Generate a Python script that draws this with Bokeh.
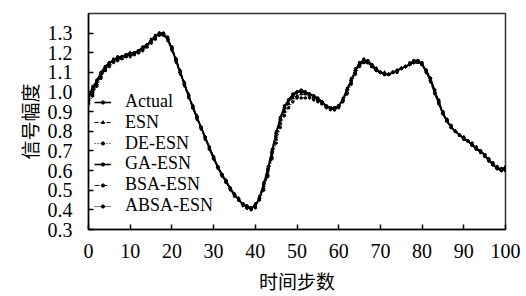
from bokeh.plotting import figure
from bokeh.embed import file_html
from bokeh.resources import INLINE
from bokeh.models import FixedTicker, PrintfTickFormatter, Range1d, Legend

time_steps = list(range(101))

actual = [0.97,1.01,1.05,1.09,1.12,1.15,1.16,1.17,1.18,1.19,
          1.19,1.20,1.21,1.22,1.24,1.26,1.28,1.30,1.29,1.27,
          1.22,1.16,1.10,1.04,0.98,0.92,0.87,0.82,0.77,0.71,
          0.66,0.62,0.58,0.54,0.51,0.48,0.45,0.43,0.41,0.41,
          0.42,0.46,0.52,0.60,0.69,0.79,0.86,0.92,0.96,0.98,
          1.00,1.00,1.00,0.99,0.98,0.96,0.95,0.93,0.92,0.91,
          0.93,0.96,1.01,1.06,1.11,1.14,1.16,1.15,1.13,1.11,
          1.10,1.09,1.09,1.10,1.11,1.12,1.13,1.14,1.15,1.16,
          1.14,1.11,1.07,1.01,0.95,0.89,0.85,0.82,0.80,0.78,
          0.76,0.75,0.73,0.71,0.70,0.68,0.65,0.63,0.61,0.60,
          0.61]

esn = [0.95,0.99,1.04,1.08,1.11,1.14,1.16,1.17,1.17,1.18,
       1.19,1.20,1.20,1.22,1.23,1.25,1.27,1.29,1.29,1.27,
       1.23,1.17,1.11,1.05,0.99,0.93,0.88,0.82,0.77,0.72,
       0.67,0.62,0.58,0.55,0.51,0.48,0.46,0.43,0.42,0.41,
       0.43,0.46,0.51,0.58,0.67,0.76,0.84,0.90,0.94,0.97,
       0.98,0.99,0.99,0.98,0.97,0.96,0.94,0.93,0.92,0.92,
       0.93,0.96,1.00,1.05,1.10,1.14,1.15,1.15,1.13,1.12,
       1.10,1.10,1.09,1.10,1.11,1.12,1.13,1.14,1.15,1.15,
       1.14,1.11,1.06,1.00,0.95,0.90,0.86,0.82,0.80,0.78,
       0.77,0.75,0.73,0.72,0.70,0.68,0.66,0.63,0.62,0.61,
       0.62]

de_esn = [0.94,0.98,1.03,1.07,1.11,1.13,1.15,1.16,1.17,1.18,
          1.18,1.19,1.20,1.21,1.23,1.25,1.27,1.29,1.30,1.28,
          1.23,1.17,1.10,1.04,0.98,0.92,0.87,0.82,0.76,0.71,
          0.66,0.62,0.58,0.54,0.51,0.47,0.45,0.43,0.41,0.40,
          0.41,0.45,0.50,0.57,0.66,0.74,0.82,0.88,0.92,0.95,
          0.97,0.97,0.97,0.97,0.96,0.95,0.94,0.92,0.91,0.91,
          0.92,0.95,0.99,1.04,1.09,1.13,1.15,1.15,1.13,1.11,
          1.10,1.09,1.09,1.10,1.10,1.12,1.13,1.14,1.15,1.16,
          1.15,1.11,1.07,1.01,0.96,0.90,0.86,0.83,0.80,0.78,
          0.77,0.75,0.74,0.72,0.70,0.68,0.66,0.64,0.62,0.60,
          0.60]

ga_esn = [0.98,1.02,1.06,1.10,1.13,1.15,1.16,1.18,1.18,1.19,
          1.20,1.20,1.21,1.23,1.24,1.26,1.28,1.30,1.30,1.27,
          1.22,1.16,1.10,1.04,0.98,0.93,0.87,0.82,0.77,0.72,
          0.67,0.62,0.58,0.55,0.51,0.48,0.45,0.43,0.42,0.41,
          0.42,0.46,0.53,0.61,0.70,0.79,0.87,0.93,0.96,0.99,
          1.00,1.01,1.00,0.99,0.98,0.97,0.95,0.93,0.92,0.92,
          0.93,0.96,1.01,1.06,1.11,1.15,1.16,1.16,1.14,1.12,
          1.10,1.09,1.09,1.10,1.11,1.12,1.13,1.14,1.16,1.16,
          1.14,1.10,1.06,1.00,0.94,0.89,0.85,0.82,0.80,0.78,
          0.76,0.75,0.73,0.71,0.70,0.68,0.65,0.63,0.61,0.61,
          0.61]

bsa_esn = [0.99,1.03,1.06,1.10,1.13,1.15,1.17,1.17,1.18,1.19,
           1.19,1.20,1.21,1.22,1.24,1.27,1.29,1.30,1.29,1.26,
           1.21,1.15,1.09,1.03,0.97,0.92,0.86,0.81,0.76,0.71,
           0.66,0.61,0.57,0.54,0.50,0.47,0.45,0.42,0.41,0.41,
           0.43,0.47,0.54,0.62,0.71,0.80,0.87,0.92,0.96,0.98,
           1.00,1.00,1.00,0.99,0.98,0.96,0.95,0.93,0.92,0.91,
           0.93,0.97,1.02,1.07,1.12,1.15,1.17,1.16,1.13,1.11,
           1.10,1.09,1.09,1.10,1.11,1.12,1.13,1.15,1.16,1.16,
           1.14,1.10,1.05,0.99,0.94,0.89,0.85,0.82,0.80,0.78,
           0.76,0.75,0.73,0.71,0.69,0.67,0.65,0.63,0.61,0.60,
           0.60]

absa_esn = [0.96,1.00,1.05,1.09,1.12,1.14,1.16,1.17,1.18,1.19,
            1.19,1.20,1.21,1.22,1.24,1.26,1.28,1.30,1.29,1.27,
            1.22,1.16,1.10,1.04,0.98,0.92,0.87,0.82,0.77,0.71,
            0.66,0.62,0.58,0.54,0.51,0.48,0.45,0.43,0.41,0.41,
            0.42,0.46,0.52,0.60,0.69,0.78,0.86,0.92,0.96,0.98,
            1.00,1.00,1.00,0.99,0.98,0.96,0.95,0.93,0.92,0.91,
            0.93,0.96,1.01,1.06,1.11,1.14,1.16,1.15,1.13,1.11,
            1.10,1.09,1.09,1.10,1.11,1.12,1.13,1.14,1.15,1.16,
            1.14,1.11,1.07,1.01,0.95,0.89,0.85,0.82,0.80,0.78,
            0.76,0.75,0.73,0.71,0.70,0.68,0.65,0.63,0.61,0.60,
            0.61]

x_ticks = [0, 10, 20, 30, 40, 50, 60, 70, 80, 90, 100]
y_ticks = [0.3, 0.4, 0.5, 0.6, 0.7, 0.8, 0.9, 1.0, 1.1, 1.2, 1.3]

FONT = "'Liberation Serif', 'Times New Roman', serif"
CJK = "'Noto Sans CJK SC'"

p = figure(width=526, height=296, output_backend="svg", toolbar_location=None,
           x_range=Range1d(0, 100), y_range=Range1d(0.3, 1.4),
           min_border_left=88, min_border_right=21, min_border_top=13, min_border_bottom=64)
p.grid.visible = False
p.outline_line_color = "#333333"
p.outline_line_width = 1.5
p.background_fill_color = "white"
p.border_fill_color = "white"

for ax in (p.xaxis[0], p.yaxis[0]):
    ax.major_tick_in = 5
    ax.major_tick_out = 0
    ax.minor_tick_line_color = None
    ax.axis_line_color = "black"
    ax.axis_line_width = 1.5
    ax.major_tick_line_color = "black"
    ax.major_tick_line_width = 1.5
    ax.major_label_text_font = FONT
    ax.major_label_text_font_size = "20px"
    ax.major_label_text_color = "black"
    ax.axis_label_text_font = CJK
    ax.axis_label_text_font_size = "19px"
    ax.axis_label_text_font_style = "normal"
    ax.axis_label_text_color = "black"

p.xaxis.ticker = FixedTicker(ticks=x_ticks)
p.yaxis.ticker = FixedTicker(ticks=y_ticks)
p.yaxis.formatter = PrintfTickFormatter(format="%.1f")
p.xaxis.major_label_standoff = 14
p.yaxis.major_label_standoff = 16
p.xaxis.axis_label = "时间步数"
p.yaxis.axis_label = "信号幅度"
p.xaxis.axis_label_standoff = 6
p.yaxis.axis_label_standoff = 2

series = [
    ("Actual", actual, "solid", 1.6, "circle", 2.5),
    ("ESN", esn, "4 2", 1.0, "triangle", 3),
    ("DE-ESN", de_esn, "1 2", 1.0, "circle", 2.5),
    ("GA-ESN", ga_esn, "solid", 1.6, "circle", 2.5),
    ("BSA-ESN", bsa_esn, "5 3", 0.8, "circle", 2),
    ("ABSA-ESN", absa_esn, "1 1", 1.0, "circle", 2.5),
]

n = len(series)
row_step = 20.8
for i, (name, ys, dash, lw, marker, ms) in enumerate(series):
    r1 = p.line(time_steps, ys, line_color="black", line_width=lw, line_dash=dash)
    r2 = p.scatter(time_steps, ys, marker=marker, size=ms, color="black")
    leg = Legend(items=[(name, [r1, r2])],
                 location=(6, 13 + (n - 1 - i) * row_step), border_line_color=None,
                 background_fill_alpha=0, padding=0, margin=0, spacing=0,
                 label_height=18, glyph_height=8, glyph_width=17, label_standoff=14,
                 label_text_font=FONT, label_text_font_size="18px", label_text_color="black")
    p.add_layout(leg, "center")

open("out.html", "w").write(file_html(p, INLINE))
